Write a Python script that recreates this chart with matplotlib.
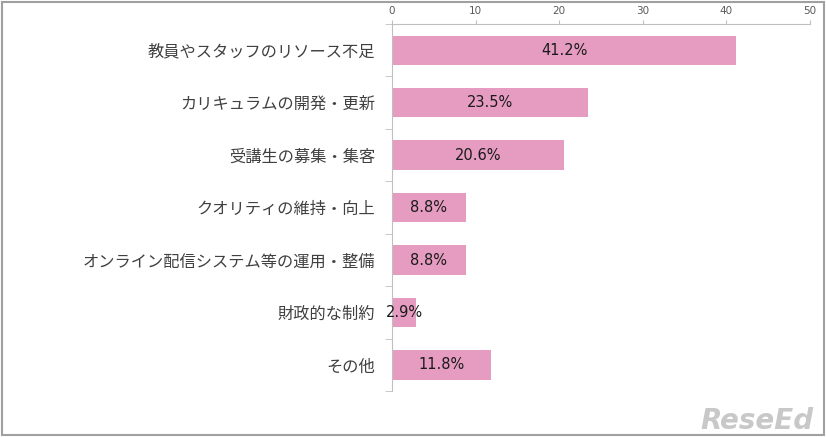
import matplotlib.pyplot as plt
from matplotlib.patches import Rectangle

plt.rcParams['font.family'] = ['Noto Sans CJK JP', 'DejaVu Sans']

# データ
categories = ['教員やスタッフのリソース不足', 'カリキュラムの開発・更新', '受講生の募集・集客',
              'クオリティの維持・向上', 'オンライン配信システム等の運用・整備', '財政的な制約', 'その他']
values = [41.2, 23.5, 20.6, 8.8, 8.8, 2.9, 11.8]
xticks = [0, 10, 20, 30, 40, 50]

fig = plt.figure(figsize=(8.26, 4.37), dpi=100)
ax = fig.add_axes([0.4746, 0.105, 0.506, 0.840])

y = list(range(len(categories)))
ax.barh(y, values, height=0.56, color='#e69cc0')
ax.set_ylim(len(categories) - 0.5, -0.5)
ax.set_xlim(0, 50)

for yi, v in zip(y, values):
    ax.text(v / 2, yi, f'{v}%', ha='center', va='center', fontsize=10.5,
            color='#1a1a1a', family='DejaVu Sans')

# 軸
ax.xaxis.tick_top()
ax.set_xticks(xticks)
ax.tick_params(axis='x', length=3, color='#bfbfbf', labelsize=7.5, labelcolor='#595959', pad=3)
for lb in ax.get_xticklabels():
    lb.set_family('DejaVu Sans')
ax.set_yticks(y)
ax.set_yticklabels(categories, fontsize=11.7, color='#404040')
ax.tick_params(axis='y', length=0, pad=12)
ax.set_yticks([i + 0.5 for i in range(-1, len(categories))], minor=True)
ax.tick_params(axis='y', which='minor', length=5, color='#bfbfbf')
for s in ['right', 'bottom']:
    ax.spines[s].set_visible(False)
ax.spines['top'].set_color('#bfbfbf')
ax.spines['left'].set_color('#bfbfbf')

# 外枠
fig.patches.append(Rectangle((0.003, 0.004), 0.994, 0.992, transform=fig.transFigure,
                             fill=False, edgecolor='#a0a0a0', linewidth=1.5))
fig.text(0.985, 0.005, 'ReseEd', ha='right', va='bottom', fontsize=20, fontweight='bold',
         fontstyle='italic', color='#c8c8c8', family='DejaVu Sans')

fig.savefig('out.png', dpi=100)
